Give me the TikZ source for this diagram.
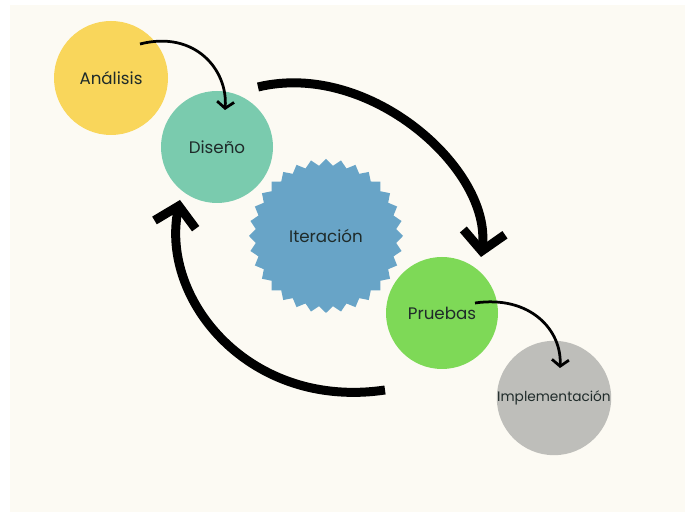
\documentclass[tikz,border=0pt]{standalone}
\usepackage{fontspec}
\setmainfont{Poppins}
\usetikzlibrary{arrows.meta}

\definecolor{paper}{HTML}{FCFAF3}
\definecolor{analisis}{HTML}{F9D65B}
\definecolor{diseno}{HTML}{7ACBAE}
\definecolor{iteracion}{HTML}{68A4C7}
\definecolor{pruebas}{HTML}{7ED957}
\definecolor{implem}{HTML}{BEBEBA}
\definecolor{ink}{HTML}{1F2B2A}

\tikzset{
  label text/.style={font=\fontsize{9.5}{11}\selectfont, text=ink},
  phase/.style={circle, draw=none, inner sep=0pt, minimum size=#1, label text},
  bigflow/.style={line width=0.18cm, black,
    -{Straight Barb[length=0.38cm, width=0.84cm]}},
  smallflow/.style={line width=0.055cm, black,
    -{Straight Barb[length=0.13cm, width=0.34cm]}},
}

\begin{document}
\begin{tikzpicture}
  % page and paper
  \useasboundingbox (0,0) rectangle (13.7,10.34);
  \fill[white] (0,0) rectangle (13.7,10.34);
  \fill[paper] (0.2,0.1) rectangle (13.7,10.24);

  % phases
  \node[phase=2.28cm, fill=analisis] (an) at (2.22,8.78) {Análisis};
  \node[phase=2.24cm, fill=diseno] (di) at (4.34,7.40) {Diseño};

  % serrated badge: 32 shallow points round the centre
  \begin{scope}[shift={(6.52,5.62)}]
    \fill[iteracion] (90:1.54)
      \foreach \i in {1,...,63} { -- ({90+\i*5.625}:{1.475+0.065*cos(\i*180)}) }
      -- cycle;
  \end{scope}
  \node[circle, inner sep=0pt, minimum size=2.8cm, label text] (it) at (6.52,5.62) {Iteración};

  \node[phase=2.24cm, fill=pruebas] (pr) at (8.84,4.08) {Pruebas};
  \node[phase=2.24cm, fill=implem, font=\fontsize{7.8}{9}\selectfont]
       (im) at (11.08,2.38) {Implementación};

  % connector ends
  \coordinate (anOut) at (2.80,9.46);
  \coordinate (diIn) at (4.50,8.14);
  \coordinate (prOut) at (9.50,4.28);
  \coordinate (imIn) at (11.20,2.98);
  \coordinate (loopTopStart) at (5.16,8.60);
  \coordinate (prTop) at (9.62,5.20);
  \coordinate (loopBotStart) at (7.70,2.54);
  \coordinate (diBot) at (3.60,6.34);

  % sequential steps
  \draw[smallflow] (anOut) .. controls (3.90,9.74) and (4.56,8.94) .. (diIn);
  \draw[smallflow] (prOut) .. controls (10.60,4.44) and (11.24,3.74) .. (imIn);

  % iteration loop
  \draw[bigflow] (loopTopStart) .. controls (7.40,9.14) and (9.84,6.94) .. (prTop);
  \draw[bigflow] (loopBotStart) .. controls (5.00,2.14) and (3.20,4.34) .. (diBot);
\end{tikzpicture}
\end{document}
